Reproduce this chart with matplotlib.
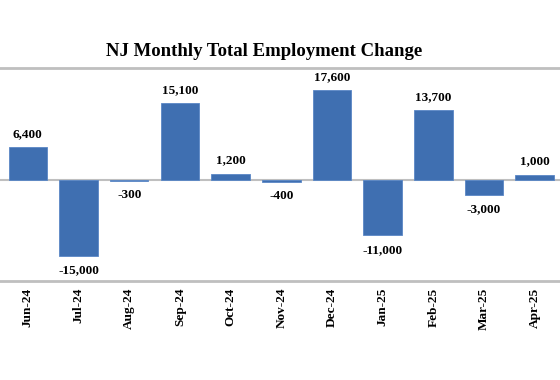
import matplotlib.pyplot as plt

months = ["Jun-24", "Jul-24", "Aug-24", "Sep-24", "Oct-24", "Nov-24",
          "Dec-24", "Jan-25", "Feb-25", "Mar-25", "Apr-25"]
change = [6400, -15000, -300, 15100, 1200, -400, 17600, -11000, 13700, -3000, 1000]

plt.rcParams["font.family"] = ["Liberation Serif", "DejaVu Serif"]

fig = plt.figure(figsize=(5.6, 3.8), dpi=100)
ax = fig.add_axes([0.0, 0.2605, 1.0, 0.5605])

x = range(len(months))
ax.bar(x, change, width=0.76, color="#3f6fb1", edgecolor="#5a87c6", linewidth=0.6, zorder=2)
ax.axhline(0, color="#bfbfbf", linewidth=1.5, zorder=1)

for i, v in zip(x, change):
    if v >= 0:
        ax.annotate(f"{v:,}", (i, v), xytext=(0, 5), textcoords="offset points",
                    ha="center", va="bottom", fontsize=9.5, fontweight="bold")
    else:
        ax.annotate(f"{v:,}", (i, v), xytext=(0, -6), textcoords="offset points",
                    ha="center", va="top", fontsize=9.5, fontweight="bold")

ax.set_xlim(-0.55, 10.5)
ax.set_ylim(-20000, 22000)
ax.set_xticks(list(x))
ax.set_xticklabels(months, rotation=90, fontsize=9.5, fontweight="bold")
ax.tick_params(axis="x", length=0, pad=5)
ax.set_yticks([])
for s in ["left", "right"]:
    ax.spines[s].set_visible(False)
for s in ["top", "bottom"]:
    ax.spines[s].set_color("#bfbfbf")
    ax.spines[s].set_linewidth(2)

fig.text(264 / 560, 1 - 52 / 380, "NJ Monthly Total Employment Change", ha="center", va="center",
         fontsize=13.5, fontweight="bold")

fig.savefig("out.png", dpi=100)
